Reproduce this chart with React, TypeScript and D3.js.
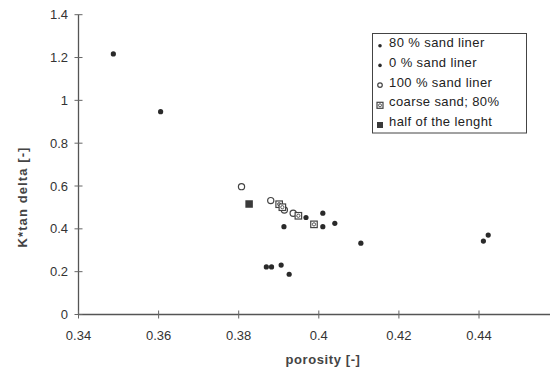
import React, { useEffect, useRef } from 'react';
import * as d3 from 'd3';

// porosity [-] vs K*tan delta [-]
const sand80X = [0.3913, 0.3968, 0.4010, 0.4010, 0.4040, 0.4105, 0.4411, 0.4423];
const sand80Y = [0.410, 0.453, 0.473, 0.410, 0.426, 0.333, 0.343, 0.371];
const sand0X = [0.3487, 0.3605, 0.3869, 0.3882, 0.3906, 0.3926];
const sand0Y = [1.217, 0.947, 0.222, 0.222, 0.231, 0.188];
const sand100X = [0.3807, 0.3880, 0.3914, 0.3936];
const sand100Y = [0.597, 0.532, 0.488, 0.473];
const coarseX = [0.3901, 0.3909, 0.3949, 0.3988];
const coarseY = [0.515, 0.501, 0.461, 0.421];
const halfX = [0.3826];
const halfY = [0.516];

const xTicks = [0.34, 0.36, 0.38, 0.4, 0.42, 0.44];
const yTicks = [0, 0.2, 0.4, 0.6, 0.8, 1, 1.2, 1.4];
const legendNames = ['80 % sand liner', '0 % sand liner', '100 % sand liner', 'coarse sand; 80%', 'half of the lenght'];

const W = 550;
const H = 371;
const FONT = 'Arial, "Liberation Sans", sans-serif';
const INK = '#2a2a2a';

export default function App() {
  const ref = useRef<SVGSVGElement>(null);

  useEffect(() => {
    const svg = d3.select(ref.current);
    svg.selectAll('*').remove();

    const x = d3.scaleLinear().domain([0.34, 0.46]).range([78.5, 559.1]);
    const y = d3.scaleLinear().domain([0, 1.4]).range([314.5, 14.7]);

    const g = svg.append('g');

    // axes
    g.append('line')
      .attr('x1', x(0.34)).attr('x2', W)
      .attr('y1', y(0)).attr('y2', y(0))
      .attr('stroke', '#555').attr('stroke-width', 1.3);
    g.append('line')
      .attr('x1', x(0.34)).attr('x2', x(0.34))
      .attr('y1', y(0)).attr('y2', y(1.4))
      .attr('stroke', '#555').attr('stroke-width', 1.3);

    xTicks.forEach(t => {
      g.append('line')
        .attr('x1', x(t)).attr('x2', x(t))
        .attr('y1', y(0) - 4).attr('y2', y(0) + 4)
        .attr('stroke', '#666').attr('stroke-width', 1);
      g.append('text')
        .text(String(t))
        .attr('x', x(t)).attr('y', 340)
        .attr('text-anchor', 'middle')
        .attr('font-family', FONT).attr('font-size', 13)
        .attr('fill', '#333');
    });

    yTicks.forEach(t => {
      g.append('line')
        .attr('x1', x(0.34) - 4).attr('x2', x(0.34) + 4)
        .attr('y1', y(t)).attr('y2', y(t))
        .attr('stroke', '#666').attr('stroke-width', 1);
      g.append('text')
        .text(String(t))
        .attr('x', 68).attr('y', y(t) + 4.5)
        .attr('text-anchor', 'end')
        .attr('font-family', FONT).attr('font-size', 13)
        .attr('fill', '#333');
    });

    // axis titles
    g.append('text')
      .text('porosity [-]')
      .attr('x', 323).attr('y', 364)
      .attr('text-anchor', 'middle')
      .attr('font-family', FONT).attr('font-size', 13)
      .attr('font-weight', 600)
      .attr('letter-spacing', 0.6)
      .attr('fill', '#444');
    g.append('text')
      .text('K*tan delta [-]')
      .attr('transform', 'translate(27,197) rotate(-90)')
      .attr('text-anchor', 'middle')
      .attr('font-family', FONT).attr('font-size', 13)
      .attr('font-weight', 600)
      .attr('letter-spacing', 1.1)
      .attr('fill', '#444');

    // markers
    const dot = (sel: any, cx: number, cy: number, r: number) =>
      sel.append('circle').attr('cx', cx).attr('cy', cy).attr('r', r).attr('fill', INK);
    const ring = (sel: any, cx: number, cy: number, r: number) =>
      sel.append('circle').attr('cx', cx).attr('cy', cy).attr('r', r)
        .attr('fill', 'none').attr('stroke', '#444').attr('stroke-width', 1.2);
    const hatch = (sel: any, cx: number, cy: number, s: number) => {
      sel.append('rect').attr('x', cx - s / 2).attr('y', cy - s / 2).attr('width', s).attr('height', s)
        .attr('fill', '#fff').attr('stroke', '#444').attr('stroke-width', 1.2);
      sel.append('circle').attr('cx', cx).attr('cy', cy).attr('r', s / 4)
        .attr('fill', 'none').attr('stroke', '#555').attr('stroke-width', 1);
    };
    const block = (sel: any, cx: number, cy: number, s: number) =>
      sel.append('rect').attr('x', cx - s / 2).attr('y', cy - s / 2).attr('width', s).attr('height', s)
        .attr('fill', '#3a3a3a');

    const pts = svg.append('g');
    sand80X.forEach((v, i) => dot(pts, x(v), y(sand80Y[i]), 2.6));
    sand0X.forEach((v, i) => dot(pts, x(v), y(sand0Y[i]), 2.6));
    sand100X.forEach((v, i) => ring(pts, x(v), y(sand100Y[i]), 3.1));
    coarseX.forEach((v, i) => hatch(pts, x(v), y(coarseY[i]), 6.5));
    halfX.forEach((v, i) => block(pts, x(v), y(halfY[i]), 7.5));

    // legend
    const lg = svg.append('g');
    lg.append('rect')
      .attr('x', 372.5).attr('y', 33.5).attr('width', 154).attr('height', 99.5)
      .attr('fill', '#fff').attr('stroke', '#444').attr('stroke-width', 1);
    legendNames.forEach((name, i) => {
      const cy = 42.7 + i * 19.7;
      const mx = 380;
      const my = cy + 3;
      if (i < 2) dot(lg, mx, my, 1.8);
      else if (i === 2) ring(lg, mx, my, 2.3);
      else if (i === 3) hatch(lg, mx, my + 0.5, 6);
      else block(lg, mx, my + 0.5, 6);
      lg.append('text')
        .text(name)
        .attr('x', 389).attr('y', cy + 4.5)
        .attr('font-family', FONT).attr('font-size', 13)
        .attr('letter-spacing', 0.4)
        .attr('fill', '#222');
    });
  }, []);

  return (
    <svg
      ref={ref}
      width={W}
      height={H}
      style={{ position: 'absolute', left: 0, top: 0, background: '#fff' }}
    />
  );
}
